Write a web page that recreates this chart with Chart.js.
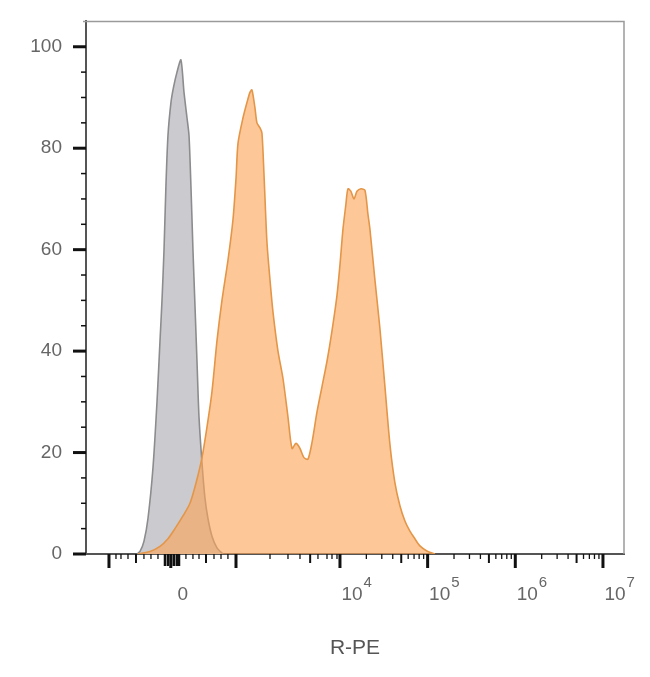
<!DOCTYPE html>
<html>
<head>
<meta charset="utf-8">
<script src="https://cdn.jsdelivr.net/npm/chart.js@4.4.1/dist/chart.umd.min.js"></script>
<style>
  html, body { margin: 0; padding: 0; background: #fff; }
  #wrap { width: 650px; height: 677px; }
</style>
</head>
<body>
<div id="wrap"><canvas id="myChart"></canvas></div>
<script>
// R-PE channel, display units (biexponential axis, 1 unit ~ 1 decade)
var isoX = [1.685, 1.719, 1.764, 1.810, 1.867, 1.913, 1.947, 1.970, 1.993, 2.015, 2.038, 2.072, 2.101, 2.141, 2.186, 2.221, 2.255, 2.278, 2.301, 2.323, 2.346, 2.369, 2.392, 2.426, 2.460, 2.494, 2.540, 2.597, 2.665];
var isoY = [0, 0.5, 2.5, 7, 17, 30, 42, 50, 60, 72.7, 82.5, 89, 92, 95, 97.4, 91, 86, 82.5, 72, 60, 49, 38, 27, 18, 11, 7, 3.5, 1.2, 0];

var peX = [1.696, 1.833, 1.947, 2.038, 2.118, 2.209, 2.289, 2.358, 2.426, 2.483, 2.540, 2.597, 2.654, 2.723, 2.780, 2.814, 2.837, 2.894, 2.939, 2.973, 2.996, 3.030, 3.053, 3.088, 3.110, 3.133, 3.167, 3.202, 3.236, 3.293, 3.350, 3.407, 3.453, 3.498, 3.544, 3.589, 3.635, 3.681, 3.738, 3.795, 3.852, 3.909, 3.966, 4.000, 4.034, 4.068, 4.091, 4.125, 4.160, 4.194, 4.240, 4.285, 4.319, 4.342, 4.399, 4.456, 4.513, 4.570, 4.627, 4.684, 4.741, 4.798, 4.855, 4.912, 4.992, 5.084];
var peY = [0, 0.5, 1.5, 3, 5, 7.5, 10, 14, 19, 25, 32, 42, 50, 58, 66, 74, 81, 86, 89, 91, 91.5, 88, 85, 84, 83, 75, 61.5, 54, 47.7, 40, 34.6, 27, 20.8, 21.8, 20.8, 19, 18.7, 22, 28, 33, 38, 44, 51, 57, 64, 69, 72, 71.5, 70, 71.5, 72, 71.7, 67, 64, 54, 44.4, 33, 21.6, 14, 9.5, 6.5, 4.5, 3, 1.6, 0.6, 0];

// axis ticks
var xLabelTicks = [2.07, 4, 5, 6, 7];
var xLabels = ['0', '10', '10', '10', '10'];
var xExponents = ['', '4', '5', '6', '7'];
var xMajor = [1.365, 2.07, 2.814, 4, 5, 6, 7];
var xCluster = [2.004, 2.038, 2.104, 2.138, 2.164];
var xMedium = [1.673, 2.472, 3.66, 4.699, 5.699, 6.699];
var xMinor = [1.445, 1.502, 1.582, 1.764, 1.844, 1.924, 2.243, 2.323, 2.392, 2.563, 2.643, 2.722, 3.202, 3.407, 3.544, 3.749, 3.852, 3.909, 3.966];
var yLabelTicks = [0, 20, 40, 60, 80, 100];

var fontFamily = 'Liberation Sans, Arial, sans-serif';
var labelOffset = 12;

function pts(xs, ys) {
  var out = [];
  for (var i = 0; i < xs.length; i++) {
    out.push({x: xs[i], y: ys[i]});
  }
  return out;
}

// log minor ticks for the upper decades
for (var d = 4; d < 7; d++) {
  for (var k = 2; k <= 9; k++) {
    if (k != 5) xMinor.push(d + Math.log10(k));
  }
}

var tickPlugin = {
  id: 'tickPlugin',
  afterDraw: function(chart) {
    var ctx = chart.ctx, a = chart.chartArea;
    var xs = chart.scales.x, ys = chart.scales.y;
    ctx.save();
    // frame top + right
    ctx.strokeStyle = '#9a9a9a';
    ctx.lineWidth = 1.5;
    ctx.beginPath();
    ctx.moveTo(a.left - 3, a.top);
    ctx.lineTo(a.right, a.top);
    ctx.lineTo(a.right, a.bottom);
    ctx.stroke();

    ctx.strokeStyle = '#111';
    function xt(list, len, w) {
      ctx.lineWidth = w;
      list.forEach(function(v) {
        var p = xs.getPixelForValue(v);
        ctx.beginPath();
        ctx.moveTo(p, a.bottom);
        ctx.lineTo(p, a.bottom + len);
        ctx.stroke();
      });
    }
    xt(xMinor, 5, 1.3);
    xt(xMedium, 9, 2);
    xt(xCluster, 12, 2.5);
    xt(xMajor, 14, 3);

    for (var v = 0; v <= 100; v += 5) {
      var major = v % 20 == 0;
      var p = ys.getPixelForValue(v);
      ctx.lineWidth = major ? 3 : 1.5;
      ctx.beginPath();
      ctx.moveTo(a.left, p);
      ctx.lineTo(a.left - (major ? 13 : 5), p);
      ctx.stroke();
    }

    // exponents of the decade labels
    ctx.fillStyle = '#666';
    ctx.textBaseline = 'top';
    ctx.textAlign = 'left';
    for (var i = 0; i < xLabelTicks.length; i++) {
      if (!xExponents[i]) continue;
      ctx.font = '19px ' + fontFamily;
      var w = ctx.measureText(xLabels[i]).width;
      var cx = xs.getPixelForValue(xLabelTicks[i]) + labelOffset;
      ctx.font = '15px ' + fontFamily;
      ctx.fillText(xExponents[i], cx + w / 2 + 1, a.bottom + 21);
    }
    ctx.restore();
  }
};

var ctx = document.getElementById('myChart');
var myChart = new Chart(ctx, {
  type: 'line',
  data: {
    datasets: [
      {
        label: 'R-PE',
        data: pts(peX, peY),
        fill: 'origin',
        backgroundColor: 'rgba(251, 165, 88, 0.62)',
        borderColor: 'rgb(228, 150, 72)',
        borderWidth: 1.6,
        pointRadius: 0,
        tension: 0.25
      },
      {
        label: 'Isotype',
        data: pts(isoX, isoY),
        fill: 'origin',
        backgroundColor: 'rgb(203, 203, 207)',
        borderColor: 'rgb(140, 140, 142)',
        borderWidth: 1.6,
        pointRadius: 0,
        tension: 0.25
      }
    ]
  },
  options: {
    responsive: true,
    maintainAspectRatio: false,
    animation: false,
    layout: { padding: { top: 18, right: 26, left: 0, bottom: 0 } },
    plugins: {
      legend: { display: false },
      tooltip: { enabled: false }
    },
    scales: {
      x: {
        type: 'linear',
        min: 1.103,
        max: 7.24,
        afterFit: function(s) { s.height = 123; s.paddingLeft = 0; s.paddingRight = 0; },
        afterBuildTicks: function(s) {
          s.ticks = xLabelTicks.map(function(v) { return {value: v}; });
        },
        grid: { drawOnChartArea: false, drawTicks: true, tickLength: 14, tickColor: 'rgba(0,0,0,0)' },
        border: { color: '#555', width: 2 },
        ticks: {
          padding: 15,
          labelOffset: labelOffset,
          maxRotation: 0,
          color: '#666',
          font: { family: fontFamily, size: 19 },
          callback: function(v) {
            var i = xLabelTicks.indexOf(v);
            return i >= 0 ? xLabels[i] : '';
          }
        },
        title: {
          display: true,
          text: 'R-PE',
          color: '#555',
          padding: { top: 0, bottom: 16 },
          font: { family: fontFamily, size: 21 }
        }
      },
      y: {
        min: 0,
        max: 105,
        afterFit: function(s) { s.width = 86; },
        afterBuildTicks: function(s) {
          s.ticks = yLabelTicks.map(function(v) { return {value: v}; });
        },
        grid: { drawOnChartArea: false, drawTicks: true, tickLength: 14, tickColor: 'rgba(0,0,0,0)' },
        border: { color: '#555', width: 2 },
        ticks: {
          padding: 10,
          color: '#666',
          font: { family: fontFamily, size: 19 }
        }
      }
    }
  },
  plugins: [tickPlugin]
});
</script>
</body>
</html>
